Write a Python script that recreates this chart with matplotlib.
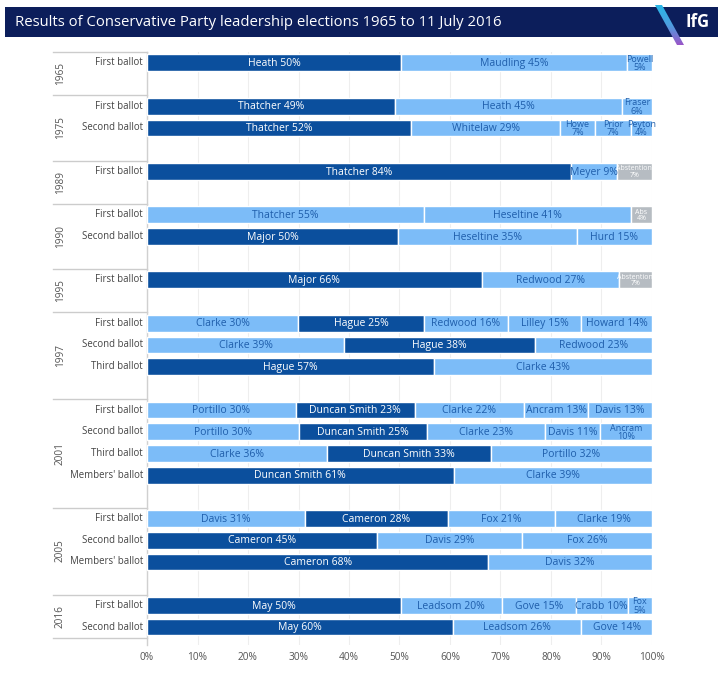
import matplotlib
matplotlib.use("Agg")
import matplotlib.pyplot as plt
import matplotlib.patches as mpatches
import numpy as np

plt.rcParams['font.family'] = ['Open Sans', 'DejaVu Sans']

# ---------------- data ----------------
years = ['1965', '1975', '1989', '1990', '1995', '1997', '2001', '2005', '2016']
ballots_per_year = [1, 2, 1, 2, 1, 3, 4, 3, 2]

ballot_labels = ['First ballot',
                 'First ballot', 'Second ballot',
                 'First ballot',
                 'First ballot', 'Second ballot',
                 'First ballot',
                 'First ballot', 'Second ballot', 'Third ballot',
                 'First ballot', 'Second ballot', 'Third ballot', "Members' ballot",
                 'First ballot', 'Second ballot', "Members' ballot",
                 'First ballot', 'Second ballot']

shares = [
    [50.3, 44.7, 5.0],
    [49.1, 44.9, 6.0],
    [52.3, 29.5, 6.9, 7.1, 4.2],
    [84.0, 9.0, 7.0],
    [54.8, 41.0, 4.2],
    [49.7, 35.4, 14.9],
    [66.3, 27.1, 6.6],
    [29.9, 25.0, 16.5, 14.6, 14.0],
    [39.0, 37.8, 23.2],
    [56.8, 43.2],
    [29.5, 23.5, 21.7, 12.65, 12.65],
    [30.1, 25.3, 23.5, 10.9, 10.2],
    [35.6, 32.5, 31.9],
    [60.7, 39.3],
    [31.3, 28.3, 21.2, 19.2],
    [45.5, 28.8, 25.7],
    [67.6, 32.4],
    [50.2, 20.1, 14.6, 10.3, 4.8],
    [60.5, 25.5, 14.0],
]

segment_labels = [
    ['Heath 50%', 'Maudling 45%', 'Powell\n5%'],
    ['Thatcher 49%', 'Heath 45%', 'Fraser\n6%'],
    ['Thatcher 52%', 'Whitelaw 29%', 'Howe\n7%', 'Prior\n7%', 'Peyton\n4%'],
    ['Thatcher 84%', 'Meyer 9%', 'Abstention\n7%'],
    ['Thatcher 55%', 'Heseltine 41%', 'Abs\n4%'],
    ['Major 50%', 'Heseltine 35%', 'Hurd 15%'],
    ['Major 66%', 'Redwood 27%', 'Abstention\n7%'],
    ['Clarke 30%', 'Hague 25%', 'Redwood 16%', 'Lilley 15%', 'Howard 14%'],
    ['Clarke 39%', 'Hague 38%', 'Redwood 23%'],
    ['Hague 57%', 'Clarke 43%'],
    ['Portillo 30%', 'Duncan Smith 23%', 'Clarke 22%', 'Ancram 13%', 'Davis 13%'],
    ['Portillo 30%', 'Duncan Smith 25%', 'Clarke 23%', 'Davis 11%', 'Ancram\n10%'],
    ['Clarke 36%', 'Duncan Smith 33%', 'Portillo 32%'],
    ['Duncan Smith 61%', 'Clarke 39%'],
    ['Davis 31%', 'Cameron 28%', 'Fox 21%', 'Clarke 19%'],
    ['Cameron 45%', 'Davis 29%', 'Fox 26%'],
    ['Cameron 68%', 'Davis 32%'],
    ['May 50%', 'Leadsom 20%', 'Gove 15%', 'Crabb 10%', 'Fox\n5%'],
    ['May 60%', 'Leadsom 26%', 'Gove 14%'],
]

# segment type: 'w' = eventual winner, 'o' = other candidate, 'a' = abstention
segment_kinds = [
    ['w', 'o', 'o'],
    ['w', 'o', 'o'],
    ['w', 'o', 'o', 'o', 'o'],
    ['w', 'o', 'a'],
    ['o', 'o', 'a'],
    ['w', 'o', 'o'],
    ['w', 'o', 'a'],
    ['o', 'w', 'o', 'o', 'o'],
    ['o', 'w', 'o'],
    ['w', 'o'],
    ['o', 'w', 'o', 'o', 'o'],
    ['o', 'w', 'o', 'o', 'o'],
    ['o', 'w', 'o'],
    ['w', 'o'],
    ['o', 'w', 'o', 'o'],
    ['w', 'o', 'o'],
    ['w', 'o'],
    ['w', 'o', 'o', 'o', 'o'],
    ['w', 'o', 'o'],
]

title = 'Results of Conservative Party leadership elections 1965 to 11 July 2016'
x_ticks = [0, 10, 20, 30, 40, 50, 60, 70, 80, 90, 100]

# ---------------- style ----------------
DARK = '#0b4f9d'
LIGHT = '#7cbcf8'
GREY = '#b6bcc2'
NAVY = '#0c1e5b'
fill = {'w': DARK, 'o': LIGHT, 'a': GREY}
tcol = {'w': 'white', 'o': '#1f5eab', 'a': 'white'}

W, H = 725, 676
fig = plt.figure(figsize=(W / 100, H / 100), dpi=100)
fig.patch.set_facecolor('white')

# row positions: each year group followed by an empty slot
positions = []
year_centres = []
boundaries = [-0.5]
p = 0
for gi, n in enumerate(ballots_per_year):
    start = p
    for k in range(n):
        positions.append(p)
        p += 1
    if gi < len(ballots_per_year) - 1:
        year_centres.append((start - 0.5 + p + 0.5) / 2)
        p += 1
        boundaries.append(p - 0.5)
    else:
        year_centres.append((start - 0.5 + p - 0.5) / 2)
        boundaries.append(p - 0.5)

ytop = -0.5
ybot = positions[-1] + 0.85
slot_px = 21.7
ax_top_px = 52
ax_h_px = (ybot - ytop) * slot_px
ax = fig.add_axes([147 / W, 1 - (ax_top_px + ax_h_px) / H, 505 / W, ax_h_px / H])
ax.set_xlim(0, 100)
ax.set_ylim(ybot, ytop)

bar_h = 0.77
for row, (pos, vals, labs, kinds) in enumerate(zip(positions, shares, segment_labels, segment_kinds)):
    left = 0
    for v, lab, kd in zip(vals, labs, kinds):
        ax.barh(pos, v, left=left, height=bar_h, color=fill[kd],
                edgecolor='white', linewidth=1.0, zorder=3)
        if kd == 'a':
            fs = 5.0
        elif '\n' in lab:
            fs = 6.5
        else:
            fs = 7.5
        ax.text(left + v / 2, pos + 0.03, lab, ha='center', va='center',
                fontsize=fs, color=tcol[kd], zorder=4, linespacing=0.9)
        left += v

ax.set_xticks(x_ticks)
ax.set_xticklabels([f'{t}%' for t in x_ticks], fontsize=7.3, color='#555555')
ax.tick_params(axis='x', length=0, pad=5)
ax.set_yticks([])
ax.grid(axis='x', color='#eeeeee', linewidth=0.8, zorder=0)
ax.set_axisbelow(True)
for s in ['top', 'right', 'bottom']:
    ax.spines[s].set_visible(False)
ax.spines['left'].set_color('#d0d0d0')
ax.spines['left'].set_linewidth(1.0)

trans = ax.get_yaxis_transform()
for pos, lab in zip(positions, ballot_labels):
    ax.text(-0.008, pos, lab, transform=trans, ha='right', va='center',
            fontsize=6.9, color='#444444', clip_on=False)
for yc, yr in zip(year_centres, years):
    ax.text(-0.172, yc, yr, transform=trans, ha='center', va='center',
            rotation=90, fontsize=7.2, color='#555555', clip_on=False)
for b in boundaries:
    ax.plot([-0.186, 0], [b, b], transform=trans, color='#cccccc',
            linewidth=1.0, clip_on=False)

# ---------------- title bar ----------------
ov = fig.add_axes([0, 0, 1, 1], zorder=10)
ov.set_xlim(0, W)
ov.set_ylim(H, 0)
ov.axis('off')
ov.add_patch(mpatches.Rectangle((5, 7), 713, 30, facecolor=NAVY, edgecolor='none'))
ov.text(15, 22, title, color='white', fontsize=10.7, va='center', ha='left')

# gradient slash logo
poly = mpatches.Polygon([(655, 5), (662, 5), (684, 45), (677, 45)], closed=True,
                        facecolor='none', edgecolor='none')
ov.add_patch(poly)
grad = np.linspace(0, 1, 100).reshape(-1, 1)
cmap = matplotlib.colors.LinearSegmentedColormap.from_list('g', ['#29b8e8', '#4d9fe0', '#9a55c8'])
im = ov.imshow(grad, extent=(650, 690, 45, 5), cmap=cmap, aspect='auto', zorder=11)
im.set_clip_path(poly)
ov.set_xlim(0, W)
ov.set_ylim(H, 0)
ov.text(698, 22, 'IfG', color='white', fontsize=12, fontweight='bold',
        va='center', ha='center', zorder=12)

fig.savefig('out.png', dpi=100, facecolor='white')
